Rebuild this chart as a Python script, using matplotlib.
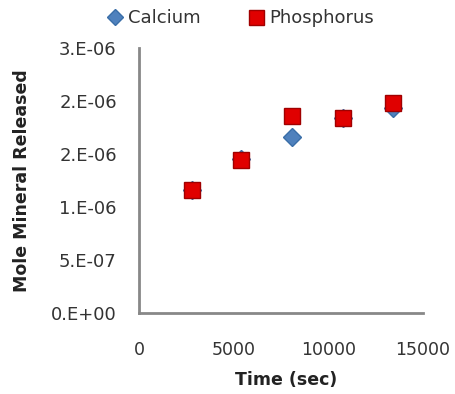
import matplotlib
matplotlib.use("Agg")
import matplotlib.pyplot as plt
from matplotlib.ticker import FuncFormatter

time_sec = [2800, 5400, 8100, 10800, 13400]
calcium = [1.16e-6, 1.45e-6, 1.66e-6, 1.84e-6, 1.93e-6]
phosphorus = [1.16e-6, 1.44e-6, 1.86e-6, 1.84e-6, 1.98e-6]
y_ticks = [0, 0.5e-6, 1.0e-6, 1.5e-6, 2.0e-6, 2.5e-6]
x_ticks = [0, 5000, 10000, 15000]

plt.rcParams['font.family'] = ['DejaVu Sans']

fig = plt.figure(figsize=(4.55, 3.94), dpi=100)
L, R, B, T = 139, 423, 313, 48
ax = fig.add_axes([L / 455, 1 - B / 394, (R - L) / 455, (B - T) / 394])

ax.plot(time_sec, calcium, linestyle='none', marker='D', markersize=9,
        color='#4F81BD', markeredgecolor='#3A6EA8', label='Calcium', zorder=3)
ax.plot(time_sec, phosphorus, linestyle='none', marker='s', markersize=12,
        color='#E00000', markeredgecolor='#A00000', label='Phosphorus', zorder=4)

ax.set_xlim(0, 15000)
ax.set_ylim(0, 2.5e-6)
ax.set_xticks(x_ticks)
ax.set_yticks(y_ticks)

def yfmt(v, pos):
    if v == 0:
        return "0.E+00"
    s = "%.0E" % v
    mant, exp = s.split("E")
    return "%s.E%s" % (mant, exp)

ax.yaxis.set_major_formatter(FuncFormatter(yfmt))
ax.tick_params(axis='both', length=0, colors='#333333')
ax.tick_params(axis='y', labelsize=13, pad=16)
ax.tick_params(axis='x', labelsize=12.5, pad=20)

for sp in ['top', 'right']:
    ax.spines[sp].set_visible(False)
for sp in ['left', 'bottom']:
    ax.spines[sp].set_color('#888888')
    ax.spines[sp].set_linewidth(2)

ax.set_xlabel('Time (sec)', fontsize=12.5, fontweight='bold', color='#222222')
ax.set_ylabel('Mole Mineral Released', fontsize=12.5, fontweight='bold', color='#222222')
ax.xaxis.set_label_coords((286 - L) / (R - L), -(380 - B) / (B - T), transform=ax.transAxes)
ax.yaxis.set_label_coords(-(L - 22) / (R - L), 0.5, transform=ax.transAxes)
ax.xaxis.label.set_va('center')
ax.yaxis.label.set_va('center')

fig.legend(loc='upper left', bbox_to_anchor=(108 / 455, 1 - 9 / 394), ncol=2, frameon=False,
           fontsize=13, handlelength=0.8, handletextpad=0.33, columnspacing=2.67,
           borderpad=0, borderaxespad=0, markerscale=0.9, labelcolor='#333333')

fig.savefig('out.png', dpi=100)
